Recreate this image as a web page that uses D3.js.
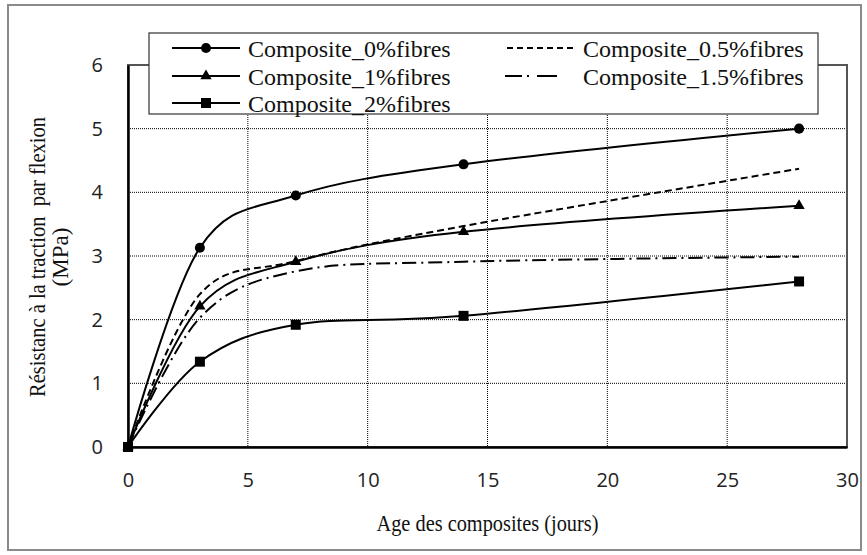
<!DOCTYPE html>
<html>
<head>
<meta charset="utf-8">
<script src="https://cdn.jsdelivr.net/npm/d3@7"></script>
<style>
  body { margin: 0; background: #fff; }
  svg { display: block; }
  .serif { font-family: "Liberation Serif", "Times New Roman", Times, "DejaVu Serif", serif; white-space: pre; }
</style>
</head>
<body>
<svg id="chart" width="867" height="555"></svg>
<script>
// data
const days = [0, 3, 7, 14, 28];
const fibres0 = [0, 3.13, 3.95, 4.44, 5.0];
const fibres05 = [0, 2.4, 2.92, 3.47, 4.37];
const fibres1 = [0, 2.21, 2.91, 3.38, 3.79];
const fibres15 = [0, 2.03, 2.76, 2.91, 2.99];
const fibres2 = [0, 1.34, 1.92, 2.06, 2.6];
const xTicks = [0, 5, 10, 15, 20, 25, 30];
const yTicks = [0, 1, 2, 3, 4, 5, 6];

const series = [
  {name: "Composite_0%fibres", values: fibres0, dash: null, marker: "circle"},
  {name: "Composite_0.5%fibres", values: fibres05, dash: "7,4", marker: null},
  {name: "Composite_1%fibres", values: fibres1, dash: null, marker: "triangle"},
  {name: "Composite_1.5%fibres", values: fibres15, dash: "14,5,2,5", marker: null},
  {name: "Composite_2%fibres", values: fibres2, dash: null, marker: "square"}
];

const svg = d3.select("#chart");
const pLeft = 128, pRight = 847, pTop = 65, pBottom = 447;

const x = d3.scaleLinear().domain([0, 30]).range([pLeft, pRight]);
const y = d3.scaleLinear().domain([0, 6]).range([pBottom, pTop]);

// outer frame
svg.append("rect")
  .attr("x", 8).attr("y", 5).attr("width", 853).attr("height", 545)
  .attr("fill", "none").attr("stroke", "#8a8a8a").attr("stroke-width", 2);

// grid
svg.append("g")
  .selectAll("line")
  .data(xTicks.slice(1, -1))
  .join("line")
  .attr("x1", d => x(d)).attr("x2", d => x(d))
  .attr("y1", pTop).attr("y2", pBottom)
  .attr("stroke", "#000").attr("stroke-width", 1).attr("stroke-dasharray", "1,1");
svg.append("g")
  .selectAll("line")
  .data(yTicks.slice(1, -1))
  .join("line")
  .attr("x1", pLeft).attr("x2", pRight)
  .attr("y1", d => y(d)).attr("y2", d => y(d))
  .attr("stroke", "#000").attr("stroke-width", 1).attr("stroke-dasharray", "1,1");

// plot border
svg.append("rect")
  .attr("x", pLeft).attr("y", pTop).attr("width", pRight - pLeft).attr("height", pBottom - pTop)
  .attr("fill", "none").attr("stroke", "#555").attr("stroke-width", 2);

// axes
const xAxis = d3.axisBottom(x).tickValues(xTicks).tickSize(0).tickPadding(26).tickFormat(d3.format("d"));
const yAxis = d3.axisLeft(y).tickValues(yTicks).tickSize(0).tickPadding(25).tickFormat(d3.format("d"));
const gx = svg.append("g").attr("transform", `translate(0,${pBottom})`).call(xAxis);
const gy = svg.append("g").attr("transform", `translate(${pLeft},0)`).call(yAxis);
[gx, gy].forEach(g => {
  g.select(".domain").attr("stroke", "#000").attr("stroke-width", 2.5);
  g.selectAll("text").attr("font-family", "Open Sans").attr("font-size", 20).attr("fill", "#222");
});

// curves
const line = d3.line()
  .x((d, i) => x(days[i]))
  .y(d => y(d))
  .curve(d3.curveCardinal.tension(0));

svg.append("g")
  .selectAll("path")
  .data(series)
  .join("path")
  .attr("d", d => line(d.values))
  .attr("fill", "none")
  .attr("stroke", "#000")
  .attr("stroke-width", 2)
  .attr("stroke-dasharray", d => d.dash);

const symbols = {
  circle: d3.symbol(d3.symbolCircle, 80),
  triangle: d3.symbol(d3.symbolTriangle, 55),
  square: d3.symbol(d3.symbolSquare, 100)
};

const markerSeries = series.filter(s => s.marker);
svg.append("g")
  .selectAll("g")
  .data(markerSeries)
  .join("g")
  .each(function(s) {
    d3.select(this).selectAll("path")
      .data(s.values)
      .join("path")
      .attr("d", symbols[s.marker])
      .attr("transform", (d, i) => `translate(${x(days[i])},${y(d)})`)
      .attr("fill", "#000");
  });

// legend
const legend = svg.append("g");
legend.append("rect")
  .attr("x", 149).attr("y", 33).attr("width", 669).attr("height", 81)
  .attr("fill", "#fff").attr("stroke", "#333").attr("stroke-width", 1.2);

const legendPos = [
  {col: 0, row: 0}, {col: 1, row: 0}, {col: 0, row: 1}, {col: 1, row: 1}, {col: 0, row: 2}
];
const colX = [172, 507], rowY = [48, 76, 103];

series.forEach((s, i) => {
  const p = legendPos[i];
  const lx = colX[p.col], ly = rowY[p.row];
  const len = s.marker ? 68 : (s.dash === "7,4" ? 70 : 52);
  legend.append("line")
    .attr("x1", lx - (s.dash && s.dash !== "7,4" ? 2 : 0)).attr("x2", lx + len)
    .attr("y1", ly).attr("y2", ly)
    .attr("stroke", "#000").attr("stroke-width", 2)
    .attr("stroke-dasharray", s.dash === "7,4" ? "6,4" : (s.dash ? "17,5,2,8,20,100" : null));
  if (s.marker) {
    legend.append("path")
      .attr("d", symbols[s.marker])
      .attr("transform", `translate(${lx + 34},${ly})`)
      .attr("fill", "#000");
  }
  legend.append("text")
    .attr("class", "serif")
    .attr("x", p.col === 0 ? 248 : 583)
    .attr("y", ly + 8.5)
    .attr("font-size", 24)
    .attr("fill", "#111")
    .text(s.name);
});

// axis titles (narrow, tall lettering as in the picture)
svg.append("text")
  .attr("class", "serif")
  .attr("x", (pLeft + pRight) / 2).attr("y", 531)
  .attr("text-anchor", "middle")
  .attr("font-size", 23).attr("fill", "#111")
  .attr("textLength", 222).attr("lengthAdjust", "spacingAndGlyphs")
  .text("Age des composites (jours)");

const yTitle = svg.append("text")
  .attr("class", "serif")
  .attr("transform", "translate(45,257) rotate(-90)")
  .attr("text-anchor", "middle")
  .attr("font-size", 23).attr("fill", "#111");
yTitle.append("tspan").attr("x", 0).attr("y", 0)
  .attr("textLength", 280).attr("lengthAdjust", "spacingAndGlyphs")
  .text("Résistanc à la traction  par flexion");
yTitle.append("tspan").attr("x", 0).attr("y", 23).text("(MPa)");
</script>
</body>
</html>
